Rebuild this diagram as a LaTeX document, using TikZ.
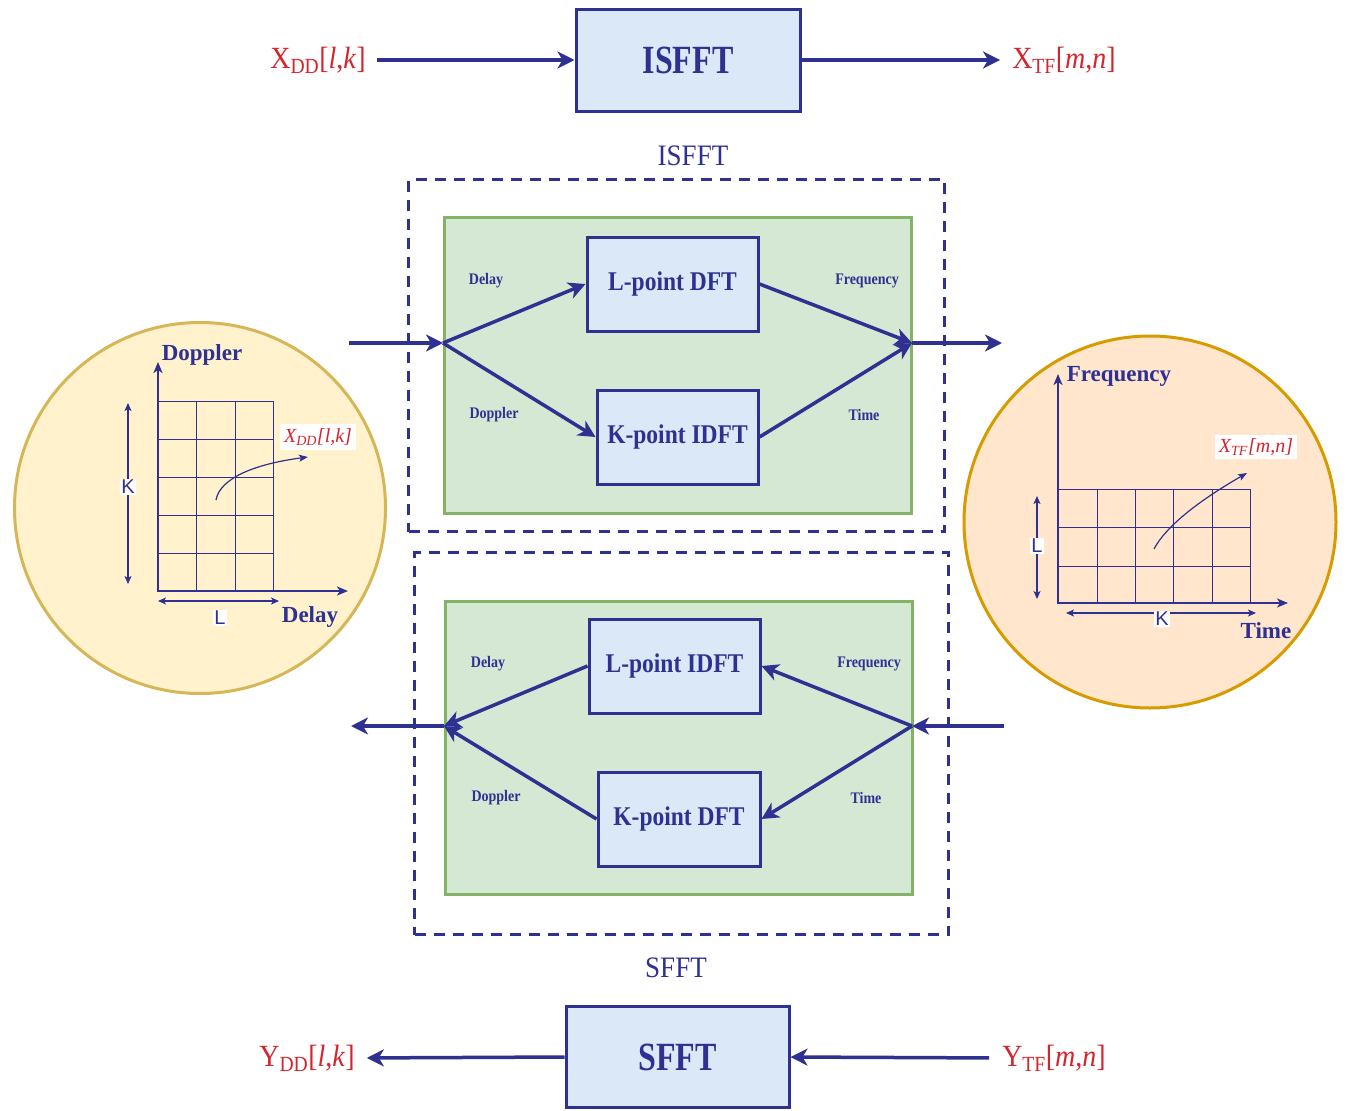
\documentclass[tikz,border=0pt]{standalone}
\usepackage{fontspec}
\setmainfont{Liberation Serif}
\setsansfont{Liberation Sans}
\usepackage{graphicx}
\usetikzlibrary{arrows.meta}
\definecolor{navy}{RGB}{46,49,146}
\definecolor{sigred}{RGB}{212,36,46}
\definecolor{boxblue}{RGB}{218,232,247}
\definecolor{grnfill}{RGB}{213,232,212}
\definecolor{grnline}{RGB}{130,179,102}
\definecolor{yelfill}{RGB}{255,242,204}
\definecolor{yelline}{RGB}{214,182,86}
\definecolor{orafill}{RGB}{255,230,204}
\definecolor{oraline}{RGB}{215,155,0}
\newcommand{\vst}[2]{\scalebox{1}[#1]{#2}}
\begin{document}
\begin{tikzpicture}[x=1pt,y=-1pt,
  blk/.style={draw=navy, line width=3pt, fill=boxblue, inner sep=0pt, text=navy},
  biglbl/.style={font=\bfseries\fontsize{32}{36}\selectfont},
  boxlbl/.style={font=\bfseries\fontsize{23.5}{26}\selectfont},
  sig/.style={text=sigred, font=\fontsize{28}{32}\selectfont, inner sep=0pt},
  stage/.style={text=navy, font=\fontsize{27}{30}\selectfont, inner sep=0pt},
  dashbox/.style={draw=navy, line width=3pt, dash pattern=on 11pt off 8pt, inner sep=0pt},
  grnbox/.style={draw=grnline, line width=3pt, fill=grnfill, inner sep=0pt},
  smalllbl/.style={text=navy, font=\bfseries\fontsize{14}{16}\selectfont, inner sep=0pt},
  axlbl/.style={text=navy, font=\bfseries\fontsize{23}{26}\selectfont, inner sep=0pt},
  sanslbl/.style={text=navy, font=\sffamily\fontsize{20}{22}\selectfont, fill=white, inner sep=1pt},
  itlbl/.style={text=sigred, font=\itshape\fontsize{20}{22}\selectfont, fill=white, inner sep=4pt},
  conn/.style={draw=navy, line width=3.5pt, -{Stealth[length=17pt,width=17pt,inset=5pt]}},
  gridln/.style={draw=navy, line width=1pt},
  axis/.style={draw=navy, line width=2pt, -{Stealth[length=11pt,width=9pt,inset=3pt]}},
  dbl/.style={draw=navy, line width=1.2pt, {Stealth[length=8pt,width=7pt,inset=2pt]}-{Stealth[length=8pt,width=7pt,inset=2pt]}},
  thinarr/.style={draw=navy, line width=1.2pt, -{Stealth[length=9pt,width=7pt,inset=2pt]}}
]
\useasboundingbox (0,0) rectangle (1350,1111);

% ---------- top ISFFT row ----------
\node[blk, biglbl, minimum width=224pt, minimum height=102pt] (isfft) at (688,60) {\vst{1.25}{ISFFT}};
\node[sig] (xdd) at (318,60) {\vst{1.1}{X\textsubscript{DD}[\textit{l},\textit{k}]}};
\node[sig] (xtf) at (1064,60) {\vst{1.1}{X\textsubscript{TF}[\textit{m},\textit{n}]}};
\draw[conn, shorten <=11pt] (xdd.east) -- (isfft.west);
\draw[conn, shorten >=12pt] (isfft.east) -- (xtf.west);

% ---------- ISFFT detail ----------
\node[stage] (isfftlbl) at (693,156) {\vst{1.1}{ISFFT}};
\node[dashbox, minimum width=536pt, minimum height=352pt] (dash1) at (676.5,355.5) {};
\node[grnbox, minimum width=467pt, minimum height=296pt] (grn1) at (677.5,365) {};
\node[blk, boxlbl, minimum width=171pt, minimum height=94pt] (ldft) at (672.5,284) {\vst{1.15}{L-point DFT}};
\node[blk, boxlbl, minimum width=161pt, minimum height=94pt] (kidft) at (677.5,437) {\vst{1.15}{K-point IDFT}};
\node[smalllbl] (d1) at (486,281) {\vst{1.15}{Delay}};
\node[smalllbl] (f1) at (867,281) {\vst{1.15}{Frequency}};
\node[smalllbl] (dp1) at (494,415) {\vst{1.15}{Doppler}};
\node[smalllbl] (t1) at (864,415) {\vst{1.15}{Time}};
\coordinate (in1) at (349,343);
\coordinate (splitL) at (443,343);
\coordinate (mergeR) at (912,343);
\coordinate (out1) at (1002,343);
\draw[conn] (in1) -- (splitL);
\draw[conn] (splitL) -- (ldft.west);
\draw[conn] (splitL) -- (kidft.west);
\draw[conn] (ldft.east) -- (mergeR);
\draw[conn] (kidft.east) -- (mergeR);
\draw[conn] (mergeR) -- (out1);

% ---------- SFFT detail ----------
\node[dashbox, minimum width=534pt, minimum height=382pt] (dash2) at (681.5,743.5) {};
\node[grnbox, minimum width=467pt, minimum height=293pt] (grn2) at (678.5,747.5) {};
\node[blk, boxlbl, minimum width=171pt, minimum height=94pt] (lidft) at (674.5,666) {\vst{1.15}{L-point IDFT}};
\node[blk, boxlbl, minimum width=162pt, minimum height=94pt] (kdft) at (679,819) {\vst{1.15}{K-point DFT}};
\node[smalllbl] (d2) at (488,664) {\vst{1.15}{Delay}};
\node[smalllbl] (f2) at (869,664) {\vst{1.15}{Frequency}};
\node[smalllbl] (dp2) at (496,798) {\vst{1.15}{Doppler}};
\node[smalllbl] (t2) at (866,798) {\vst{1.15}{Time}};
\coordinate (in2) at (1004,726);
\coordinate (splitR) at (912,726);
\coordinate (mergeL) at (444,726);
\coordinate (out2) at (351,726);
\draw[conn] (in2) -- (splitR);
\draw[conn] (splitR) -- (lidft.east);
\draw[conn] (splitR) -- (kdft.east);
\draw[conn] (lidft.west) -- (mergeL);
\draw[conn] (kdft.west) -- (mergeL);
\draw[conn] (mergeL) -- (out2);
\node[stage] (sfftlbl) at (676,968) {\vst{1.1}{SFFT}};

% ---------- bottom SFFT row ----------
\node[blk, biglbl, minimum width=223pt, minimum height=101pt] (sfft) at (677.5,1057) {\vst{1.25}{SFFT}};
\node[sig] (ydd) at (307,1058) {\vst{1.1}{Y\textsubscript{DD}[\textit{l},\textit{k}]}};
\node[sig] (ytf) at (1054,1058) {\vst{1.1}{Y\textsubscript{TF}[\textit{m},\textit{n}]}};
\draw[conn, shorten >=12pt] (sfft.west) -- (ydd.east);
\draw[conn, shorten <=13pt] (ytf.west) -- (sfft.east);

% ---------- left circle: delay-Doppler grid ----------
\node[circle, draw=yelline, fill=yelfill, line width=3pt, minimum size=371pt, inner sep=0pt] (ddc) at (200,508) {};
\foreach \x in {196,235,273} \draw[gridln] (\x,401) -- (\x,591);
\foreach \y in {401,439,477,515,553} \draw[gridln] (158,\y) -- (273,\y);
\draw[axis] (158,591) -- (158,362);
\draw[axis] (157,591) -- (348,591);
\node[axlbl] (ddy) at (202,355) {Doppler};
\node[axlbl] (ddx) at (310,617) {Delay};
\draw[dbl] (128,403) -- (128,584);
\node[sanslbl] (ddk) at (128,487) {K};
\draw[dbl] (158,601) -- (279,601);
\node[sanslbl] (ddl) at (220,618) {L};
\node[itlbl] (xddc) at (318,437) {X\textsubscript{DD}[l,k]};
\draw[thinarr] (216,500) .. controls (220,478) and (255,464) .. (308,457);

% ---------- right circle: time-frequency grid ----------
\node[circle, draw=oraline, fill=orafill, line width=3pt, minimum size=372pt, inner sep=0pt] (tfc) at (1150,522) {};
\foreach \x in {1097,1135,1173,1212,1250} \draw[gridln] (\x,489) -- (\x,603);
\foreach \y in {489,527,566} \draw[gridln] (1058,\y) -- (1250,\y);
\draw[axis] (1058,603) -- (1058,374);
\draw[axis] (1057,603) -- (1288,603);
\node[axlbl] (tfy) at (1119,376) {Frequency};
\node[axlbl] (tfx) at (1266,631) {Time};
\draw[dbl] (1037,496) -- (1037,599);
\node[sanslbl] (tfl) at (1037,546) {L};
\draw[dbl] (1066,613) -- (1256,613);
\node[sanslbl] (tfk) at (1162,619) {K};
\node[itlbl] (xtfc) at (1256,447) {X\textsubscript{TF}[m,n]};
\draw[thinarr] (1154,549) .. controls (1166,526) and (1200,500) .. (1247,473);
\end{tikzpicture}
\end{document}
